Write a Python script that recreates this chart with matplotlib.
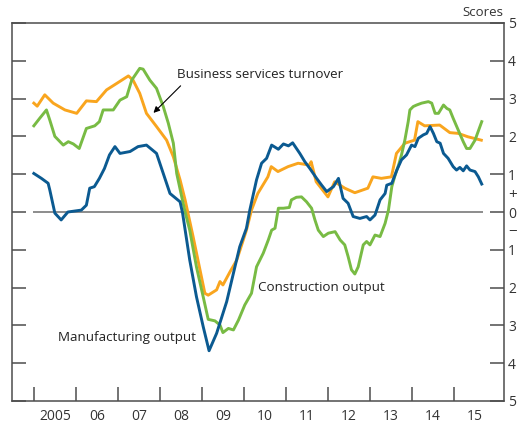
import matplotlib
matplotlib.use('Agg')
import matplotlib.pyplot as plt

plt.rcParams['font.family'] = ['Open Sans', 'DejaVu Sans']

# Business services turnover (orange)
bus_x = [2005.00, 2005.08, 2005.26, 2005.46, 2005.74, 2006.02, 2006.25, 2006.49, 2006.73, 2006.97,
         2007.25, 2007.36, 2007.52, 2007.68, 2007.92, 2008.16, 2008.32, 2008.48, 2008.60, 2008.79,
         2009.07, 2009.15, 2009.35, 2009.43, 2009.50, 2009.67, 2009.83, 2010.06, 2010.18, 2010.33,
         2010.57, 2010.65, 2010.81, 2011.05, 2011.29, 2011.56, 2011.60, 2011.72, 2012.00, 2012.16,
         2012.40, 2012.64, 2012.95, 2013.07, 2013.27, 2013.51, 2013.63, 2013.83, 2014.06, 2014.14,
         2014.30, 2014.66, 2014.90, 2015.10, 2015.33, 2015.65]
bus_y = [2.88, 2.80, 3.10, 2.88, 2.70, 2.61, 2.94, 2.92, 3.23, 3.40,
         3.60, 3.49, 3.14, 2.61, 2.26, 1.90, 1.46, 0.85, 0.32, -0.65,
         -2.15, -2.20, -2.06, -1.84, -1.93, -1.58, -1.27, -0.48, 0.05, 0.49,
         0.93, 1.20, 1.07, 1.20, 1.29, 1.24, 1.33, 0.80, 0.40, 0.80,
         0.63, 0.51, 0.63, 0.93, 0.89, 0.93, 1.55, 1.82, 1.90, 2.39,
         2.28, 2.30, 2.10, 2.08, 1.99, 1.90]

# Manufacturing output (blue)
man_x = [2005.00, 2005.18, 2005.34, 2005.38, 2005.50, 2005.65, 2005.81, 2006.13, 2006.25, 2006.33,
         2006.44, 2006.56, 2006.68, 2006.80, 2006.93, 2007.05, 2007.29, 2007.48, 2007.68, 2007.92,
         2008.08, 2008.24, 2008.48, 2008.54, 2008.71, 2008.87, 2009.03, 2009.17, 2009.35, 2009.59,
         2009.75, 2009.90, 2010.06, 2010.14, 2010.30, 2010.42, 2010.54, 2010.66, 2010.82, 2010.94,
         2011.06, 2011.16, 2011.33, 2011.45, 2011.57, 2011.73, 2011.85, 2011.97, 2012.13, 2012.25,
         2012.36, 2012.48, 2012.60, 2012.76, 2012.92, 2013.00, 2013.12, 2013.24, 2013.36, 2013.40,
         2013.52, 2013.64, 2013.75, 2013.87, 2013.99, 2014.07, 2014.15, 2014.27, 2014.35, 2014.43,
         2014.51, 2014.59, 2014.67, 2014.75, 2014.86, 2014.98, 2015.06, 2015.14, 2015.22, 2015.30,
         2015.38, 2015.50, 2015.58, 2015.66]
man_y = [1.02, 0.89, 0.76, 0.58, -0.03, -0.21, 0.00, 0.05, 0.18, 0.63,
         0.67, 0.89, 1.15, 1.51, 1.73, 1.55, 1.60, 1.73, 1.77, 1.55,
         1.02, 0.49, 0.27, -0.03, -1.27, -2.24, -3.03, -3.67, -3.21, -2.37,
         -1.62, -0.92, -0.43, 0.05, 0.85, 1.29, 1.42, 1.77, 1.66, 1.80,
         1.75, 1.83, 1.55, 1.33, 1.15, 0.89, 0.71, 0.54, 0.67, 0.89,
         0.36, 0.23, -0.12, -0.17, -0.12, -0.21, -0.08, 0.32, 0.49, 0.71,
         0.76, 1.11, 1.38, 1.51, 1.77, 1.73, 1.95, 2.04, 2.08, 2.26,
         2.08, 1.86, 1.82, 1.55, 1.42, 1.20, 1.11, 1.18, 1.09, 1.22,
         1.11, 1.07, 0.93, 0.74]

# Construction output (green)
con_x = [2005.00, 2005.14, 2005.30, 2005.38, 2005.50, 2005.70, 2005.82, 2005.94, 2006.08, 2006.25,
         2006.45, 2006.56, 2006.65, 2006.89, 2007.05, 2007.21, 2007.33, 2007.52, 2007.60, 2007.76,
         2007.92, 2008.08, 2008.20, 2008.32, 2008.40, 2008.52, 2008.60, 2008.71, 2008.87, 2009.03,
         2009.15, 2009.31, 2009.43, 2009.50, 2009.63, 2009.75, 2009.87, 2010.02, 2010.18, 2010.30,
         2010.38, 2010.46, 2010.58, 2010.66, 2010.74, 2010.82, 2010.94, 2011.08, 2011.13, 2011.25,
         2011.37, 2011.49, 2011.61, 2011.69, 2011.77, 2011.89, 2012.01, 2012.17, 2012.29, 2012.40,
         2012.48, 2012.56, 2012.64, 2012.72, 2012.84, 2012.92, 2013.00, 2013.12, 2013.24, 2013.36,
         2013.44, 2013.52, 2013.60, 2013.68, 2013.75, 2013.83, 2013.91, 2013.95, 2014.03, 2014.11,
         2014.23, 2014.39, 2014.47, 2014.55, 2014.63, 2014.75, 2014.83, 2014.90, 2014.98, 2015.10,
         2015.22, 2015.30, 2015.38, 2015.50, 2015.66]
con_y = [2.28, 2.48, 2.70, 2.43, 2.00, 1.77, 1.86, 1.80, 1.68, 2.21,
         2.28, 2.39, 2.70, 2.70, 2.96, 3.05, 3.49, 3.80, 3.78, 3.49,
         3.27, 2.79, 2.35, 1.82, 1.02, 0.40, 0.00, -0.48, -1.45, -2.24,
         -2.84, -2.88, -2.99, -3.19, -3.08, -3.12, -2.86, -2.46, -2.15, -1.45,
         -1.27, -1.09, -0.74, -0.48, -0.43, 0.10, 0.10, 0.12, 0.32, 0.39,
         0.40, 0.27, 0.10, -0.21, -0.48, -0.65, -0.56, -0.52, -0.74, -0.87,
         -1.18, -1.53, -1.64, -1.45, -0.87, -0.78, -0.87, -0.61, -0.65, -0.30,
         0.05, 0.67, 0.98, 1.24, 1.51, 1.90, 2.39, 2.70, 2.79, 2.83,
         2.88, 2.92, 2.88, 2.61, 2.61, 2.83, 2.74, 2.70, 2.48, 2.17,
         1.86, 1.68, 1.68, 1.90, 2.39]

years = list(range(2005, 2016))
year_labels = ['2005', '06', '07', '08', '09', '10', '11', '12', '13', '14', '15']
y_ticks = [-5, -4, -3, -2, -1, 0, 1, 2, 3, 4, 5]
y_labels = ['5', '4', '3', '2', '1', '0', '1', '2', '3', '4', '5']

fig = plt.figure(figsize=(5.18, 4.25), dpi=100)
ax = fig.add_axes([12 / 518, 24 / 425, 492 / 518, 378 / 425])

frame_col = '#4d4d4d'
ax.hlines(0, 2004.97, 2015.68, color='#6d6d6d', lw=1.1, zorder=1)
ax.plot(man_x, man_y, color='#0b5a91', lw=2.1, zorder=3)
ax.plot(bus_x, bus_y, color='#f9a51e', lw=2.1, zorder=2)
ax.plot(con_x, con_y, color='#78bb44', lw=2.1, zorder=2.5)

ax.set_xlim(2004.48, 2016.19)
ax.set_ylim(-5, 5)

for s in ax.spines.values():
    s.set_color(frame_col)
    s.set_linewidth(1.1)

# x axis: ticks at year boundaries, labels mid-year
ax.set_xticks(years)
ax.set_xticklabels([])
ax.set_xticks([y + 0.5 for y in years], minor=True)
ax.set_xticklabels(year_labels, minor=True)
ax.tick_params(axis='x', which='major', direction='in', length=10, width=1.1, color=frame_col)
ax.tick_params(axis='x', which='minor', length=0, pad=6, labelsize=10, labelcolor='#333333')

# y axis: ticks both sides, labels on the right only
ax.set_yticks(y_ticks)
ax.set_yticklabels(y_labels)
ax.set_yticks([-0.5, 0.5], minor=True)
ax.set_yticklabels(['\u2212', '+'], minor=True)
ax.tick_params(axis='y', which='major', direction='in', length=10, width=1.1, color=frame_col,
               left=True, right=True, labelleft=False, labelright=True, pad=3,
               labelsize=10, labelcolor='#333333')
ax.tick_params(axis='y', which='minor', length=0, left=False, right=True,
               labelleft=False, labelright=True, pad=3, labelsize=11, labelcolor='#333333')

fig.text(503 / 518, 1 - 12 / 425, 'Scores', ha='right', va='center', fontsize=9.5, color='#333333')

lab_kw = dict(fontsize=9.6, color='#222222', va='center')
ax.text(2008.40, 3.65, 'Business services turnover', ha='left', **lab_kw)
ax.annotate('', xy=(2007.80, 2.57), xytext=(2008.54, 3.39),
            arrowprops=dict(arrowstyle='-|>', color='black', lw=0.8, mutation_scale=9))
ax.text(2010.33, -2.0, 'Construction output', ha='left', **lab_kw)
ax.text(2005.57, -3.33, 'Manufacturing output', ha='left', **lab_kw)

fig.savefig('out.png', dpi=100)
